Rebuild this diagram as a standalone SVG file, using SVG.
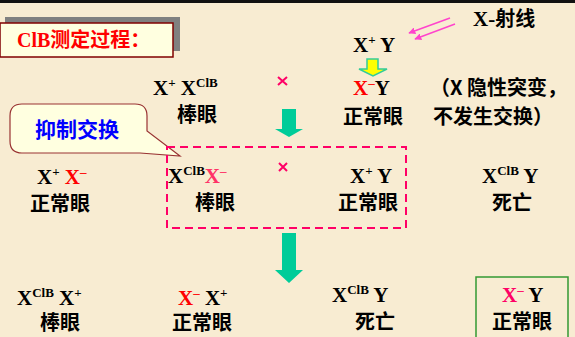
<svg xmlns="http://www.w3.org/2000/svg" width="575" height="337" viewBox="0 0 575 337">
<defs>
<style>
.lat{font-family:"Liberation Serif","Times New Roman",serif;font-weight:bold;font-size:21px;fill:#000}
.cjk{font-family:"Noto Sans CJK SC","Noto Sans",sans-serif;font-weight:bold;font-size:20px;fill:#000}
.sup{font-size:13px}
.red{fill:#FF0000}
.pink{fill:#FF0066}
.teal{fill:#00CC99}
.cross{stroke:#FF0066;stroke-width:2;fill:none}
</style>
<marker id="pa" viewBox="0 0 10 10" refX="9" refY="5" markerWidth="7" markerHeight="7" orient="auto" markerUnits="userSpaceOnUse">
<path d="M0 0 L10 5 L0 10 Z" fill="#FF44CC"/>
</marker>
</defs>
<rect x="0" y="0" width="575" height="337" fill="#F8ECD2"/>
<rect x="0" y="0" width="575" height="3" fill="#111"/>

<g id="title">
<rect x="5" y="17" width="175" height="34" fill="#808080"/>
<rect x="0" y="23" width="173" height="34" fill="#FFFFE0" stroke="#800000" stroke-width="1.5"/>
<text x="17" y="47" font-family="Liberation Serif,serif" font-weight="bold" font-size="20" fill="#FF0000">ClB<tspan font-family="Noto Sans CJK SC,sans-serif">测定过程：</tspan></text>
</g>

<g id="xray">
<text x="473" y="26" class="lat" font-size="20">X-<tspan class="cjk">射线</tspan></text>
</g>

<g id="p-male">
<text x="353" y="52" class="lat">X<tspan class="sup" dy="-8">+</tspan><tspan dy="8"> Y</tspan></text>
</g>

<g id="mut-male">
<text x="353" y="95" class="lat"><tspan class="red">X</tspan><tspan class="sup red" dy="-8">–</tspan><tspan dy="8">Y</tspan></text>
<text x="343" y="124" class="cjk">正常眼</text>
</g>

<g id="note">
<text x="430" y="95" class="cjk" font-size="19">（X 隐性突变，</text>
<text x="433" y="124" class="cjk" font-size="19">不发生交换）</text>
</g>

<g id="p-female">
<text x="153" y="95" class="lat">X<tspan class="sup" dy="-8">+</tspan><tspan dy="8"> X</tspan><tspan class="sup" dy="-8">ClB</tspan></text>
<text x="177" y="122" class="cjk">棒眼</text>
</g>

<g id="callout">
<path d="M22 104 H135 Q147 104 147 116 V131 L180 156 L140 153 H22 Q10 153 10 141 V116 Q10 104 22 104 Z" fill="#FFFFE0" stroke="#993333" stroke-width="1.2"/>
<text x="35" y="137" font-family="Noto Sans CJK SC,sans-serif" font-weight="bold" font-size="21" fill="#0000FF">抑制交换</text>
</g>

<g id="f1-female-n">
<text x="37" y="184" class="lat">X<tspan class="sup" dy="-8">+</tspan><tspan dy="8"> </tspan><tspan class="red">X</tspan><tspan class="sup red" dy="-8">–</tspan></text>
<text x="30" y="211" class="cjk">正常眼</text>
</g>

<g id="f1-group">
<rect x="167" y="147" width="239" height="81" fill="none" stroke="#FF0066" stroke-width="2" stroke-dasharray="8 5"/>
</g>

<g id="f1-female-b">
<text x="168" y="183" class="lat">X<tspan class="sup" dy="-8">ClB</tspan><tspan dy="8" fill="#FF3366">X</tspan><tspan class="sup" fill="#FF3366" dy="-8">–</tspan></text>
<text x="195" y="210" class="cjk">棒眼</text>
</g>

<g id="f1-male">
<text x="350" y="183" class="lat">X<tspan class="sup" dy="-8">+</tspan><tspan dy="8"> Y</tspan></text>
<text x="338" y="210" class="cjk">正常眼</text>
</g>

<g id="f1-dead">
<text x="482" y="183" class="lat">X<tspan class="sup" dy="-8">ClB</tspan><tspan dy="8"> Y</tspan></text>
<text x="492" y="210" class="cjk">死亡</text>
</g>

<g id="f2-b">
<text x="17" y="305" class="lat">X<tspan class="sup" dy="-8">ClB</tspan><tspan dy="8"> X</tspan><tspan class="sup" dy="-8">+</tspan></text>
<text x="40" y="330" class="cjk">棒眼</text>
</g>

<g id="f2-n">
<text x="178" y="305" class="lat"><tspan class="red">X</tspan><tspan class="sup red" dy="-8">–</tspan><tspan dy="8"> X</tspan><tspan class="sup" dy="-8">+</tspan></text>
<text x="172" y="330" class="cjk">正常眼</text>
</g>

<g id="f2-dead">
<text x="332" y="302" class="lat">X<tspan class="sup" dy="-8">ClB</tspan><tspan dy="8"> Y</tspan></text>
<text x="355" y="329" class="cjk">死亡</text>
</g>

<g id="f2-target">
<rect x="476" y="277" width="92" height="64" fill="none" stroke="#339933" stroke-width="1.5"/>
<text x="502" y="302" class="lat"><tspan class="pink">X</tspan><tspan class="sup pink" dy="-8">–</tspan><tspan dy="8"> Y</tspan></text>
<text x="492" y="329" class="cjk">正常眼</text>
</g>

<g id="connectors">
<line x1="450" y1="18" x2="409" y2="33" stroke="#FF44CC" stroke-width="1.5" marker-end="url(#pa)"/>
<line x1="455" y1="24" x2="415" y2="39" stroke="#FF44CC" stroke-width="1.5" marker-end="url(#pa)"/>
<path d="M367 59 H378 V69 H387 L373 76 L359 69 H367 Z" fill="#FFFF00" stroke="#33CC99" stroke-width="1.5"/>
<path d="M282 109 H296 V129 H303 L289 137 L275 129 H282 Z" class="teal"/>
<path d="M282 233 H296 V270 H303 L289 283 L275 270 H282 Z" class="teal"/>
<path d="M278 77 L287 85 M287 77 L278 85" class="cross"/>
<path d="M279 163 L287 171 M287 163 L279 171" class="cross"/>
</g>
</svg>
